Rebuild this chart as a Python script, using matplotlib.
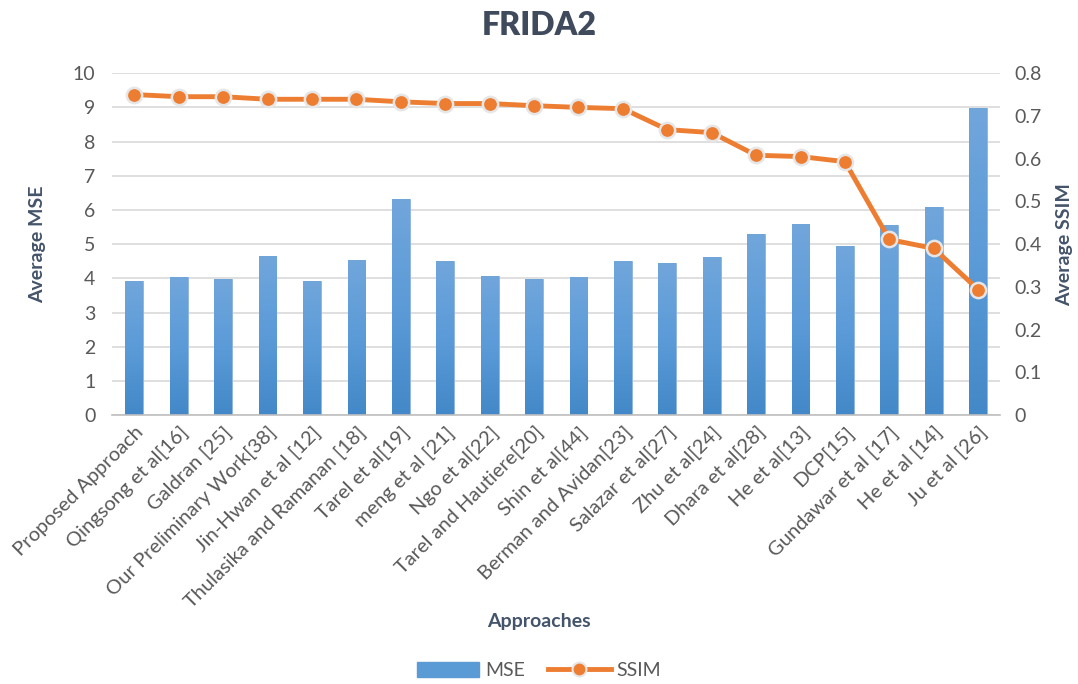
import numpy as np
import matplotlib
matplotlib.use("Agg")
import matplotlib.pyplot as plt
from matplotlib.lines import Line2D
from matplotlib.patches import Patch
from matplotlib.colors import LinearSegmentedColormap

categories = ["Proposed Approach", "Qingsong et al[16]", "Galdran [25]", "Our Preliminary Work[38]",
              "Jin-Hwan et al [12]", "Thulasika and Ramanan [18]", "Tarel et al[19]", "meng et al [21]",
              "Ngo et al[22]", "Tarel and Hautiere[20]", "Shin et al[44]", "Berman and Avidan[23]",
              "Salazar et al[27]", "Zhu et al[24]", "Dhara et al[28]", "He et al[13]", "DCP[15]",
              "Gundawar et al [17]", "He et al [14]", "Ju et al [26]"]
mse = [3.92, 4.05, 3.98, 4.66, 3.92, 4.55, 6.32, 4.52, 4.08, 3.98,
       4.05, 4.52, 4.46, 4.62, 5.29, 5.58, 4.95, 5.55, 6.09, 8.98]
ssim = [0.750, 0.745, 0.745, 0.739, 0.739, 0.739, 0.733, 0.729, 0.729, 0.724,
        0.720, 0.717, 0.668, 0.661, 0.608, 0.605, 0.593, 0.411, 0.390, 0.294]
mse_ticks = list(range(0, 11))
ssim_ticks = [0, 0.1, 0.2, 0.3, 0.4, 0.5, 0.6, 0.7, 0.8]
ssim_ticklabels = ["0", "0.1", "0.2", "0.3", "0.4", "0.5", "0.6", "0.7", "0.8"]

plt.rcParams['font.family'] = ['Lato', 'DejaVu Sans']
tick_col = '#595959'
lab_col = '#44546A'

fig = plt.figure(figsize=(10.78, 6.84), dpi=100)
ax = fig.add_axes([0.104, 0.393, 0.824, 0.500])
x = np.arange(len(categories))

bars = ax.bar(x, mse, width=0.4, color='#5B9BD5', edgecolor='#8FB4DE', linewidth=0.6, zorder=2)
grad = np.linspace(0, 1, 256).reshape(-1, 1)
cmap = LinearSegmentedColormap.from_list('g', ['#4388C8', '#5B9BD8', '#71A6DB'])
for b in bars:
    bx, by = b.get_x(), b.get_y()
    w, h = b.get_width(), b.get_height()
    im = ax.imshow(grad, extent=[bx, bx + w, by, by + h], origin='lower', cmap=cmap,
                   aspect='auto', zorder=2.1)
    im.set_clip_path(b)

ax.set_xlim(-0.5, len(categories) - 0.5)
ax.set_ylim(0, 10)
ax.set_yticks(mse_ticks)
ax.yaxis.grid(True, color='#D9D9D9', linewidth=1.2, zorder=0)
ax.set_axisbelow(True)
for s in ['top', 'right', 'left']:
    ax.spines[s].set_visible(False)
ax.spines['bottom'].set_color('#BFBFBF')
ax.spines['bottom'].set_linewidth(1.2)
ax.tick_params(axis='both', length=0, colors=tick_col, labelsize=14)
ax.tick_params(axis='y', pad=12)
ax.set_xticks(x)
ax.set_xticklabels(categories, rotation=45, ha='right', rotation_mode='anchor',
                   fontsize=14.5, color=tick_col)
ax.tick_params(axis='x', pad=6)

ax2 = ax.twinx()
ax2.set_ylim(0, 0.8)
ax2.set_yticks(ssim_ticks)
ax2.set_yticklabels(ssim_ticklabels)
ax2.tick_params(axis='y', length=0, colors=tick_col, labelsize=14, pad=10)
for s in ax2.spines.values():
    s.set_visible(False)
ax2.plot(x, ssim, color='#ED7D31', linewidth=3.5, marker='o', markersize=11,
         markerfacecolor='#ED7D31', markeredgecolor='#E7E6E6', markeredgewidth=1.8, zorder=3)
ax2.set_xlim(-0.5, len(categories) - 0.5)

fig.text(0.5, 0.962, "FRIDA2", ha='center', va='center', fontsize=23, fontweight='heavy', color='#3F4B5C')
fig.text(0.035, 0.643, "Average MSE", ha='center', va='center', rotation=90, fontsize=14,
         fontweight='bold', color=lab_col)
fig.text(0.988, 0.643, "Average SSIM", ha='center', va='center', rotation=90, fontsize=14,
         fontweight='bold', color=lab_col)
fig.text(0.5, 0.092, "Approaches", ha='center', va='center', fontsize=14, fontweight='bold', color=lab_col)

handles = [Patch(facecolor='#5B9BD5', edgecolor='#5B9BD5'),
           Line2D([0], [0], color='#ED7D31', linewidth=3.5, marker='o', markersize=10,
                  markerfacecolor='#ED7D31', markeredgecolor='#E7E6E6', markeredgewidth=1.5)]
leg = fig.legend(handles, ["MSE", "SSIM"], loc='center', bbox_to_anchor=(0.5, 0.02), ncol=2,
                 frameon=False, fontsize=14, handlelength=3.2, handleheight=0.8, columnspacing=1.2,
                 handletextpad=0.3)
for t in leg.get_texts():
    t.set_color(tick_col)

fig.savefig("out.png", dpi=100)
